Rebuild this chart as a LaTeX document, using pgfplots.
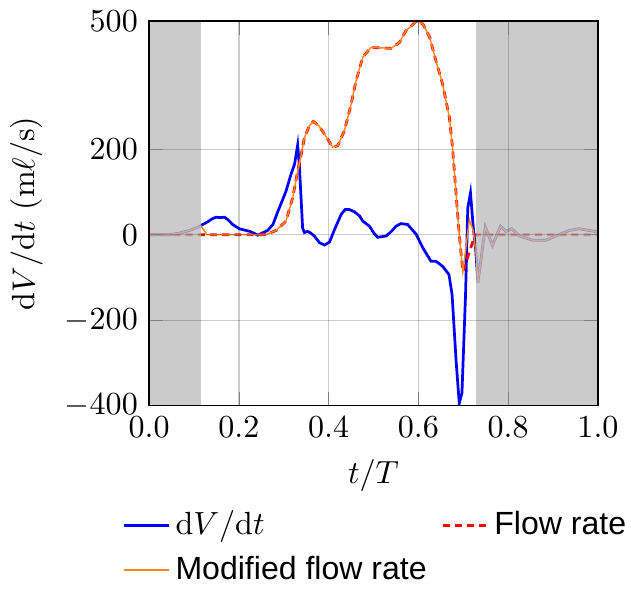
\documentclass[border=0pt]{standalone}
\usepackage{fontspec}
\newfontfamily\arialfont{Liberation Sans}
\usepackage{pgfplots}
\pgfplotsset{compat=1.18}
\definecolor{modorange}{RGB}{250,135,30}

\begin{document}
\begin{tikzpicture}
\begin{axis}[
  scale only axis,
  width=140pt, height=120pt,
  xmin=0, xmax=1, ymin=-400, ymax=500,
  xtick={0,0.2,0.4,0.6,0.8,1},
  ytick={-400,-200,0,200,500},
  xticklabel style={/pgf/number format/.cd, fixed, fixed zerofill, precision=1},
  xlabel={$t/T$},
  ylabel={$\mathrm{d}V/\mathrm{d}t$ (m$\ell$/s)},
  grid=major,
  grid style={black, opacity=0.2},
  axis on top,
  legend columns=2,
  legend cell align=left,
  legend image code/.code={\draw[#1] (0cm,0cm) -- (0.5cm,0cm);},
  legend style={draw=none, fill=none, inner sep=0pt, row sep=1pt,
    at={(0.507,-0.255)}, anchor=north,
    nodes={inner xsep=1.5pt},
    /tikz/every even column/.append style={column sep=3pt}},
]
% dV/dt
\addplot[blue, line width=0.85pt] coordinates {
(0,0)(0.02,0)(0.045,0)(0.068,4)(0.09,10)(0.112,19)(0.116,22)(0.13,30)(0.14,37)
(0.149,41)(0.158,40)(0.168,41)(0.176,35)(0.186,24)(0.201,14)(0.212,11)(0.224,8)
(0.235,3)(0.242,-1)(0.254,5)(0.264,10)(0.276,24)(0.287,55)(0.296,78)(0.305,102)
(0.316,141)(0.324,165)(0.327,184)(0.331,210)(0.335,157)(0.342,16)(0.346,5)
(0.353,8)(0.360,4)(0.368,-3)(0.380,-19)(0.391,-24)(0.402,-17)(0.413,12)(0.428,48)
(0.437,59)(0.446,59)(0.457,54)(0.469,44)(0.476,32)(0.491,20)(0.500,5)(0.509,-6)
(0.528,-3)(0.540,8)(0.550,20)(0.561,26)(0.576,24)(0.595,1)(0.610,-31)(0.628,-62)
(0.639,-62)(0.654,-74)(0.668,-93)(0.675,-140)(0.684,-296)(0.691,-394)(0.697,-370)
(0.705,-140)(0.710,63)(0.716,98)(0.722,20)(0.728,-40)(0.7325,-112)(0.749,18)
(0.765,-25)(0.783,20)(0.795,8)(0.808,14)(0.825,-3)(0.855,-13)(0.884,-13)
(0.906,-3)(0.936,10)(0.958,14)(0.992,8)(1.0,8)
};
\addlegendentry{$\mathrm{d}V/\mathrm{d}t$}
% flow rate
\addplot[red, line width=0.85pt, dash pattern=on 2.2pt off 1.6pt] coordinates {
(0,0)(0.25,0)(0.262,1)(0.283,10)(0.305,32)(0.32,87)(0.331,149)(0.339,188)
(0.346,227)(0.357,255)(0.366,265)(0.378,255)(0.391,235)(0.409,205)(0.420,208)
(0.435,243)(0.450,305)(0.461,360)(0.476,415)(0.494,438)(0.520,437)(0.539,436)
(0.558,450)(0.572,477)(0.595,499)(0.610,493)(0.625,462)(0.639,407)(0.654,352)
(0.669,274)(0.676,204)(0.684,94)(0.691,0)(0.699,-87)(0.7215,-15)(0.728,0)(1,0)
};
\addlegendentry{\arialfont Flow rate}
% modified flow rate
\addplot[modorange, line width=0.45pt] coordinates {
(0,0)(0.02,0)(0.045,0)(0.068,4)(0.09,10)(0.112,19)(0.116,20)(0.129,0)(0.25,0)
(0.262,1)(0.283,10)(0.305,32)(0.32,87)(0.331,149)(0.339,188)
(0.346,227)(0.357,255)(0.366,265)(0.378,255)(0.391,235)(0.409,205)(0.420,208)
(0.435,243)(0.450,305)(0.461,360)(0.476,415)(0.494,438)(0.520,437)(0.539,436)
(0.558,450)(0.572,477)(0.595,499)(0.610,493)(0.625,462)(0.639,407)(0.654,352)
(0.669,274)(0.676,204)(0.684,94)(0.691,0)(0.699,-87)(0.707,-20)(0.7135,35)
(0.722,10)(0.728,-40)(0.7325,-112)(0.749,18)
(0.765,-25)(0.783,20)(0.795,8)(0.808,14)(0.825,-3)(0.855,-13)(0.884,-13)
(0.906,-3)(0.936,10)(0.958,14)(0.992,8)(1.0,8)
};
\addlegendentry{\arialfont Modified flow rate}
% shaded regions
\fill[black!27, fill opacity=0.75] (axis cs:0,-400) rectangle (axis cs:0.116,500);
\fill[black!27, fill opacity=0.75] (axis cs:0.728,-400) rectangle (axis cs:1,500);
\end{axis}
\end{tikzpicture}
\end{document}
